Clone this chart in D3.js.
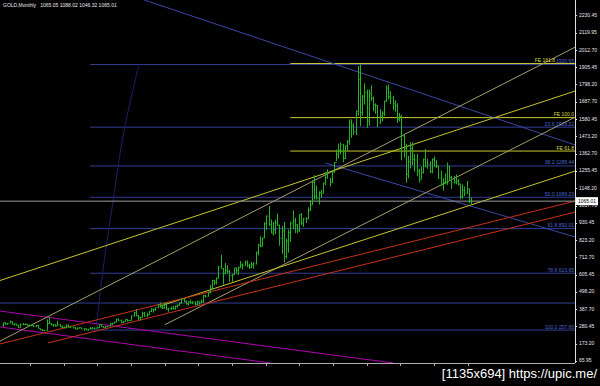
<!DOCTYPE html>
<html>
<head>
<meta charset="utf-8">
<script src="https://d3js.org/d3.v7.min.js"></script>
<style>
  body { margin: 0; background: #000; }
  svg { display: block; font-family: "Liberation Sans", Arial, sans-serif; }
</style>
</head>
<body>
<div id="chart"></div>
<script>
// GOLD monthly, Jan 1998 .. Dec 2015 (one row per year)
const highs = [
  305,305,303,316,311,298,298,290,300,302,300,296,
  293,290,290,289,291,267,264,259,325,339,302,293,
  292,316,294,286,281,292,292,280,277,274,273,275,
  272,268,267,264,277,277,271,280,293,293,280,280,
  284,303,303,310,327,330,323,315,326,325,322,349,
  372,388,352,341,373,371,367,376,393,392,400,418,
  430,418,428,430,395,405,410,411,416,430,456,456,
  443,437,448,438,436,443,437,448,476,479,497,541,
  571,574,588,660,730,646,677,663,635,610,648,650,
  655,690,675,694,694,673,685,683,749,797,845,836,
  933,976,1033,950,935,950,988,918,910,935,830,887,
  938,1006,961,922,983,990,960,963,1026,1071,1196,1227,
  1162,1127,1135,1180,1249,1265,1211,1249,1310,1388,1425,1431,
  1423,1412,1447,1576,1577,1552,1632,1911,1920,1729,1803,1763,
  1764,1791,1719,1677,1666,1641,1627,1693,1789,1796,1754,1725,
  1696,1677,1617,1605,1487,1424,1348,1434,1434,1361,1361,1267,
  1280,1332,1392,1331,1315,1332,1345,1322,1287,1255,1208,1238,
  1307,1284,1224,1224,1232,1205,1175,1170,1157,1191,1142,1088.02
];
const lows = [
  278,290,291,300,292,286,286,272,273,290,290,285,
  284,282,277,277,268,256,252,251,254,296,288,278,
  280,281,276,271,270,270,275,270,268,263,263,268,
  263,255,256,255,263,266,264,266,271,278,271,271,
  277,282,288,299,307,315,302,302,312,311,315,317,
  342,346,320,318,336,341,340,352,370,367,378,397,
  398,389,392,386,372,383,387,386,398,409,422,432,
  417,410,425,421,414,413,417,427,430,460,468,488,
  515,540,543,582,643,543,606,613,561,560,603,610,
  603,645,636,663,652,640,647,643,669,727,776,780,
  834,885,912,865,850,858,911,786,736,681,705,742,
  808,890,865,865,873,916,903,928,952,1004,1041,1076,
  1075,1045,1087,1114,1165,1205,1157,1180,1242,1315,1332,1358,
  1309,1328,1382,1418,1462,1478,1478,1600,1535,1600,1669,1523,
  1538,1692,1627,1612,1527,1548,1564,1598,1685,1701,1672,1635,
  1625,1555,1565,1321,1338,1180,1208,1270,1291,1251,1221,1182,
  1202,1238,1277,1268,1240,1240,1282,1272,1206,1161,1131,1170,
  1167,1191,1142,1175,1170,1162,1077,1080,1097,1111,1052,1046.32
];
const closes = [
  304,297,301,310,293,296,288,273,293,292,294,288,
  285,287,279,286,268,261,255,254,299,299,291,290,
  283,293,278,275,272,288,276,278,273,264,270,273,
  265,266,258,264,267,270,266,273,293,279,275,279,
  282,296,301,308,326,318,304,312,324,316,317,347,
  368,347,334,336,361,346,354,375,388,386,398,417,
  400,396,427,388,393,395,391,408,415,428,452,438,
  422,435,428,435,417,436,429,433,473,470,495,517,
  568,556,582,654,643,613,632,623,599,604,646,632,
  650,665,663,680,659,650,666,672,743,789,783,834,
  923,971,916,865,886,928,914,832,880,718,815,869,
  927,942,916,883,980,927,955,955,1008,1040,1182,1096,
  1081,1118,1113,1179,1212,1244,1181,1248,1307,1357,1385,1421,
  1332,1411,1439,1556,1536,1500,1628,1826,1620,1722,1746,1566,
  1738,1709,1668,1664,1560,1598,1615,1692,1773,1719,1711,1675,
  1663,1578,1595,1472,1393,1234,1313,1395,1327,1323,1251,1202,
  1244,1326,1284,1296,1250,1327,1282,1287,1210,1172,1182,1184,
  1284,1213,1183,1184,1190,1172,1095,1133,1115,1142,1065.05,1065.01
];
const firstOpen = 289;
const symbol = "GOLD,Monthly";
const quote = ["1065.05", "1088.02", "1046.32", "1065.01"];
const bid = 1065.01;

// right price scale labels
const priceTicks = [2230.45,2119.95,2012.70,1905.45,1798.20,1687.70,1580.45,1473.20,1362.70,
  1255.45,1148.20,1037.70,930.45,823.20,712.70,605.45,498.20,387.70,280.45,173.20,65.95];
// time scale tick marks (bar index)
const timeTicks = [12.4,27.9,43.3,58.8,74.2,89.7,105.2,120.6,136.1,151.5,167,182.5,197.9,213.4];

// fibo retracement and expansion
const fibHigh = 1920.65, fibLow = 257.80, fibStart = 40;
const fibLevels = [0, 23.6, 38.2, 50, 61.8, 78.6, 100];
const feBase = 1040, feRange = 548, feStart = 132;
const feLevels = [61.8, 100, 161.8];
const hLevel = 427;

// trend lines as [bar index, price]
const channelTop = [[65, 2324], [263, 1416]];
const channelBottom = [[148, 1304], [263, 840]];
const trendA = [[-1.4, 568], [263, 1755]];
const trendB = [[-1.4, 189], [263, 2030]];
const trendE = [[74.4, 292], [263, 1592]];
const trendD = [[72, 407], [263, 1254]];
const red1 = [[-1.4, 171], [263, 1066]];
const red2 = [[20.7, 177], [263, 997]];
const magenta1 = [[-1.4, 377], [179.2, 52]];
const magenta2 = [[-1.4, 277], [122.7, 52]];
const fiboArc = [[62.5, 1924], [55.5, 1500], [50.5, 1060], [46.6, 700], [44, 420], [42.6, 246]];

const W = 600, H = 386, plotR = 575, plotB = 363;

const x = d3.scaleLinear().domain([0, 215]).range([3, 471]);
const y = d3.scaleLinear().domain([51.64, 2324.37]).range([plotB, 0]);

const svg = d3.select("#chart").append("svg")
  .attr("width", W).attr("height", H)
  .style("background", "#000");

svg.append("defs").append("clipPath").attr("id", "plot")
  .append("rect").attr("x", 0).attr("y", 0).attr("width", plotR).attr("height", plotB);

const plot = svg.append("g").attr("clip-path", "url(#plot)");

const line = d3.line().x(d => x(d[0])).y(d => y(d[1]));

// horizontal objects
const fibY = lv => fibHigh - (fibHigh - fibLow) * lv / 100;
plot.selectAll(".fib").data(fibLevels).enter().append("line")
  .attr("x1", x(fibStart)).attr("x2", plotR)
  .attr("y1", d => y(fibY(d))).attr("y2", d => y(fibY(d)))
  .attr("stroke", "#323e96").attr("stroke-width", 1);

plot.append("line")
  .attr("x1", 0).attr("x2", plotR)
  .attr("y1", y(hLevel)).attr("y2", y(hLevel))
  .attr("stroke", "#323e96");

const feY = lv => feBase + feRange * lv / 100;
plot.selectAll(".fe").data(feLevels).enter().append("line")
  .attr("x1", x(feStart)).attr("x2", plotR)
  .attr("y1", d => y(feY(d))).attr("y2", d => y(feY(d)))
  .attr("stroke", "#c8c832").attr("stroke-width", 1);

// arc
plot.append("path").datum(fiboArc)
  .attr("d", d3.line().x(d => x(d[0])).y(d => y(d[1])).curve(d3.curveCatmullRom))
  .attr("fill", "none").attr("stroke", "#18226a").attr("stroke-width", 1);

// trend lines
const lines = [
  [magenta1, "#b000b0"], [magenta2, "#b000b0"],
  [channelTop, "#3a48a6"], [channelBottom, "#3a48a6"],
  [trendB, "#a49e6a"], [trendE, "#a49e6a"],
  [trendA, "#c8c428"], [trendD, "#c8c428"],
  [red1, "#c83218"], [red2, "#c83218"]
];
lines.forEach(([pts, col]) => {
  plot.append("path").datum(pts).attr("d", line)
    .attr("fill", "none").attr("stroke", col).attr("stroke-width", 1);
});

// bid line
plot.append("line")
  .attr("x1", 0).attr("x2", plotR)
  .attr("y1", y(bid)).attr("y2", y(bid))
  .attr("stroke", "#9a9a9a");

// bars
const bars = plot.append("g").attr("stroke", "#22b422").attr("stroke-width", 1);
closes.forEach((c, i) => {
  const o = i === 0 ? firstOpen : closes[i - 1];
  const cx = Math.round(x(i)) + 0.5;
  bars.append("line").attr("x1", cx).attr("x2", cx)
    .attr("y1", y(highs[i])).attr("y2", y(lows[i]));
  bars.append("line").attr("x1", cx - 1).attr("x2", cx)
    .attr("y1", y(o)).attr("y2", y(o));
  bars.append("line").attr("x1", cx).attr("x2", cx + 1)
    .attr("y1", y(c)).attr("y2", y(c));
});

// fibo labels
svg.selectAll(".fibl").data(fibLevels).enter().append("text")
  .attr("x", plotR - 1).attr("y", d => y(fibY(d)) - 1.5)
  .attr("text-anchor", "end").attr("font-size", 5).attr("fill", "#4a66cc")
  .text(d => d === 0 ? fibY(d).toFixed(2) : `${d.toFixed(1)} ${fibY(d).toFixed(2)}`);

svg.selectAll(".fel").data(feLevels).enter().append("text")
  .attr("x", d => d === 161.8 ? plotR - 20 : plotR - 1)
  .attr("y", d => y(feY(d)) - 1.5)
  .attr("text-anchor", "end").attr("font-size", 5).attr("fill", "#d8d840")
  .text(d => `FE ${d.toFixed(1)}`);

// axes frame
svg.append("line").attr("x1", plotR + 0.5).attr("x2", plotR + 0.5)
  .attr("y1", 0).attr("y2", plotB).attr("stroke", "#e0e0e0");
svg.append("line").attr("x1", 0).attr("x2", plotR)
  .attr("y1", plotB + 0.5).attr("y2", plotB + 0.5).attr("stroke", "#b0b0b0");

svg.selectAll(".tt").data(timeTicks).enter().append("line")
  .attr("x1", d => Math.round(x(d)) + 0.5).attr("x2", d => Math.round(x(d)) + 0.5)
  .attr("y1", plotB).attr("y2", plotB + 3).attr("stroke", "#b0b0b0");

const yTicks = svg.append("g");
priceTicks.forEach(p => {
  yTicks.append("line").attr("x1", plotR).attr("x2", plotR + 2)
    .attr("y1", Math.round(y(p)) + 0.5).attr("y2", Math.round(y(p)) + 0.5).attr("stroke", "#e0e0e0");
  yTicks.append("text").attr("x", plotR + 4).attr("y", y(p)).attr("dy", "0.35em")
    .attr("font-size", 5).attr("fill", "#e8e8e8").text(p.toFixed(2));
});

// bid box
svg.append("rect").attr("x", plotR + 1).attr("y", y(bid) - 4)
  .attr("width", 22).attr("height", 8).attr("fill", "#fff");
svg.append("text").attr("x", plotR + 3).attr("y", y(bid)).attr("dy", "0.35em")
  .attr("font-size", 5).attr("fill", "#000").text(bid.toFixed(2));

// header
svg.append("text").attr("x", 3).attr("y", 7)
  .attr("font-size", 5).attr("fill", "#e8e8e8").attr("xml:space", "preserve")
  .text(`${symbol}   ${quote.join(" ")}`);

// watermark
svg.append("text").attr("x", 597).attr("y", 378)
  .attr("text-anchor", "end")
  .attr("font-size", 13).attr("fill", "#fff")
  .text("[1135x694] https://upic.me/");
</script>
</body>
</html>
